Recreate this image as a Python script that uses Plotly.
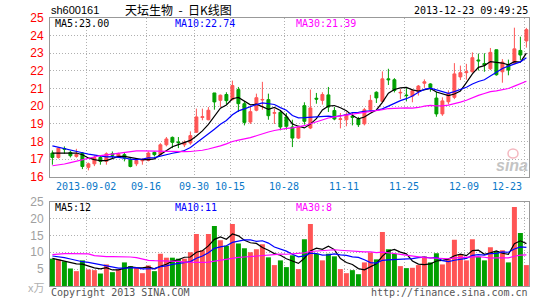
import plotly.graph_objects as go
import pandas as pd

# ---------------- data ----------------
opens = [17.34, 17.09, 17.60, 17.38, 17.15, 17.34, 16.53, 16.73, 17.09, 16.87,
         17.30, 17.15, 17.25, 16.96, 16.73, 16.90, 16.92, 17.38, 17.25, 17.81,
         18.23, 17.97, 17.81, 17.91, 18.52, 19.36, 19.23, 20.75, 20.33, 20.66,
         20.37, 20.94, 20.14, 19.10, 19.77, 20.35, 20.37, 19.60, 19.65, 19.39,
         18.82, 18.19, 20.03, 18.76, 20.45, 20.33, 20.64, 19.75, 19.25, 19.23,
         19.42, 19.27, 19.00, 19.80, 20.79, 20.27, 21.55, 21.50, 20.75, 20.63,
         20.57, 20.82, 21.30, 21.26, 20.46, 19.56, 20.25, 20.50, 21.66, 21.90,
         21.95, 22.62, 22.42, 22.12, 23.20, 21.95, 22.35, 22.44, 23.16, 23.70]
closes = [17.09, 17.62, 17.56, 17.19, 17.26, 16.58, 16.73, 17.09, 16.87, 17.30,
          17.21, 17.30, 17.06, 16.58, 16.92, 16.96, 17.34, 17.25, 17.81, 18.14,
          17.95, 17.93, 17.95, 18.33, 19.39, 19.40, 19.77, 20.24, 20.62, 20.31,
          21.17, 20.14, 19.08, 19.69, 20.48, 20.38, 19.46, 19.63, 18.82, 18.86,
          18.19, 18.82, 19.14, 19.90, 20.40, 20.66, 19.95, 19.27, 19.28, 19.52,
          19.37, 18.95, 19.80, 20.33, 20.47, 21.55, 21.50, 20.89, 20.78, 20.60,
          20.87, 21.14, 21.38, 21.05, 19.56, 20.30, 20.72, 21.83, 21.90, 21.95,
          22.75, 22.57, 22.33, 23.05, 21.78, 22.50, 22.05, 23.25, 22.90, 24.34]
highs = [17.49, 17.68, 17.72, 17.47, 17.58, 17.40, 16.80, 17.20, 17.19, 17.38,
         17.43, 17.36, 17.38, 17.05, 17.00, 17.05, 17.43, 17.43, 17.90, 18.25,
         18.28, 18.25, 18.06, 18.57, 19.86, 19.86, 19.95, 20.75, 20.66, 20.79,
         21.45, 21.09, 20.28, 19.95, 20.71, 21.38, 20.71, 19.86, 19.73, 19.61,
         19.23, 18.86, 20.22, 20.94, 20.75, 20.79, 21.09, 19.95, 19.61, 19.65,
         19.65, 19.39, 19.90, 20.64, 20.84, 21.97, 22.12, 21.59, 20.97, 21.02,
         20.97, 21.20, 21.52, 21.30, 20.82, 20.50, 20.90, 22.44, 22.30, 22.40,
         23.05, 22.98, 23.00, 23.30, 23.20, 22.67, 22.64, 24.45, 23.94, 24.44]
lows = [16.68, 17.03, 17.30, 17.09, 17.08, 16.43, 16.36, 16.60, 16.68, 16.68,
        17.05, 17.10, 16.87, 16.53, 16.60, 16.68, 16.87, 17.15, 17.20, 17.72,
        17.62, 17.62, 17.68, 17.81, 18.48, 19.20, 19.20, 19.80, 19.95, 20.09,
        20.33, 19.67, 18.91, 18.99, 19.71, 19.80, 19.23, 18.99, 18.63, 18.67,
        17.68, 18.14, 18.95, 18.70, 20.14, 20.09, 19.67, 19.20, 18.74, 18.86,
        18.91, 18.82, 18.91, 19.71, 20.18, 20.17, 21.20, 20.78, 20.40, 20.27,
        20.22, 20.60, 21.04, 20.82, 19.40, 19.45, 20.10, 20.40, 21.48, 21.50,
        21.90, 22.02, 21.95, 22.05, 21.73, 21.33, 21.75, 22.38, 22.62, 23.32]
volumes = [8.1, 7.9, 7.3, 5.2, 4.4, 7.6, 4.9, 4.7, 3.7, 6.4,
           4.1, 4.9, 7.0, 5.9, 5.4, 3.8, 6.1, 4.4, 9.6, 8.4,
           8.4, 8.1, 8.1, 10.0, 15.4, 10.6, 15.4, 17.8, 13.6, 11.9,
           18.4, 12.6, 11.2, 10.0, 10.9, 12.4, 8.5, 6.2, 7.6, 5.6,
           9.1, 5.0, 13.9, 18.4, 9.6, 7.6, 9.6, 8.8, 5.0, 3.8,
           4.7, 3.5, 7.0, 9.9, 7.9, 16.0, 10.9, 9.6, 5.9, 5.3,
           5.4, 6.2, 8.8, 7.0, 9.7, 6.4, 8.0, 13.7, 9.3, 7.6,
           13.9, 8.6, 7.6, 11.5, 10.3, 10.6, 7.0, 23.4, 15.7, 6.2]

# moving-average values at the start of the window (read off the lines,
# they depend on days before the visible range)
ma5_head = [17.34, 17.35, 17.36, 17.35]
ma10_head = [17.75, 17.68, 17.60, 17.50, 17.43, 17.36, 17.28, 17.22, 17.17]
ma30_head = [16.62, 16.66, 16.72, 16.80, 16.88, 16.97, 17.06, 17.14, 17.20, 17.24,
             17.28, 17.34, 17.40, 17.44, 17.46, 17.46, 17.45, 17.43, 17.42, 17.41,
             17.41, 17.41, 17.42, 17.43, 17.46, 17.50, 17.57, 17.65, 17.75]
vma5_head = [8.2, 7.8, 7.4, 7.0]
vma10_head = [8.9, 8.7, 8.4, 8.0, 7.5, 7.2, 7.0, 6.7, 6.4]
vma30_head = [9.3, 9.5, 9.6, 9.6, 9.6, 9.6, 9.5, 9.0, 8.8, 8.7,
              8.7, 8.7, 8.7, 8.6, 8.4, 7.9, 7.6, 7.5, 7.5, 7.5,
              7.5, 7.3, 7.1, 7.0, 7.0, 7.0, 7.1, 7.4, 7.7]

date_pos = [6, 16, 24, 30, 39, 49, 59, 69, 79]
date_labels = ["2013-09-02", "09-16", "09-30", "10-15", "10-28",
               "11-11", "11-25", "12-09", "12-23"]
price_ticks = [16, 17, 18, 19, 20, 21, 22, 23, 24, 25]
vol_ticks = [5, 10, 15, 20, 25]

title_code = "sh600161"
title_name = "天坛生物\u00a0\u00a0-\u00a0\u00a0日K线图"
timestamp = "2013-12-23 09:49:25"
price_ma_text = ["MA5:23.00", "MA10:22.74", "MA30:21.39"]
vol_ma_text = ["MA5:12", "MA10:11", "MA30:8"]

# ---------------- helpers ----------------
def ma(values, n, head):
    s = pd.Series(values).rolling(n).mean().tolist()
    return list(head) + s[n - 1:]

x = list(range(len(closes)))
ma5 = ma(closes, 5, ma5_head)
ma10 = ma(closes, 10, ma10_head)
ma30 = ma(closes, 30, ma30_head)
vma5 = ma(volumes, 5, vma5_head)
vma10 = ma(volumes, 10, vma10_head)
vma30 = ma(volumes, 30, vma30_head)

RED = "#FF5555"
GREEN = "#00A000"
W, H = 545, 300
L, R, T, B = 50, 16, 18, 14
PW, PH = W - L - R, H - T - B

def px(v):
    return (v - L) / PW

def py(v):
    return (H - B - v) / PH

MONO = "DejaVu Sans Mono"
SANS = "Liberation Sans"

fig = go.Figure()

fig.add_trace(go.Candlestick(
    x=x, open=opens, high=highs, low=lows, close=closes,
    increasing=dict(line=dict(color=RED, width=1), fillcolor=RED),
    decreasing=dict(line=dict(color=GREEN, width=1), fillcolor=GREEN),
    whiskerwidth=0, xaxis="x", yaxis="y", hoverinfo="skip"))

for series, color in [(ma5, "#000000"), (ma10, "#0000FF"), (ma30, "#FF00FF")]:
    fig.add_trace(go.Scatter(x=x, y=series, mode="lines",
                             line=dict(color=color, width=1.2),
                             xaxis="x", yaxis="y", hoverinfo="skip"))

bar_colors = [RED if c >= o else GREEN for o, c in zip(opens, closes)]
fig.add_trace(go.Bar(x=x, y=volumes, width=0.83, marker=dict(color=bar_colors, line=dict(width=0)),
                     xaxis="x2", yaxis="y2", hoverinfo="skip"))
for series, color in [(vma5, "#000000"), (vma10, "#0000FF"), (vma30, "#FF00FF")]:
    fig.add_trace(go.Scatter(x=x, y=series, mode="lines",
                             line=dict(color=color, width=1.2),
                             xaxis="x2", yaxis="y2", hoverinfo="skip"))

grid_vals = [d - 0.4 for d in date_pos]
GRID = "#B0B0B0"
BORDER = "#999999"
xcommon = dict(range=[-0.4, -0.4 + PW / 6.0], tickvals=grid_vals, showticklabels=False,
               showgrid=True, gridcolor=GRID, griddash="1px,2px", gridwidth=1,
               showline=True, mirror=True, linecolor=BORDER, linewidth=1,
               zeroline=False, ticks="", fixedrange=True)

main_bottom = py(176.7)
vol_top = py(201.7)

fig.update_layout(
    width=W, height=H,
    margin=dict(l=L, r=R, t=T, b=B, autoexpand=False),
    paper_bgcolor="white", plot_bgcolor="white",
    showlegend=False, hovermode=False, boxgap=0.3,
    xaxis=dict(domain=[0, 1], anchor="y", rangeslider=dict(visible=False), **xcommon),
    xaxis2=dict(domain=[0, 1], anchor="y2", matches="x", **xcommon),
    yaxis=dict(domain=[main_bottom, 1], range=[16, 25], tickvals=price_ticks,
               showgrid=True, gridcolor=GRID, griddash="1px,2px", gridwidth=1,
               showline=True, mirror=True, linecolor=BORDER, linewidth=1,
               zeroline=False, ticks="", ticklabelstandoff=3,
               tickfont=dict(family=SANS, size=12, color="#FF0000"), fixedrange=True),
    yaxis2=dict(domain=[0, vol_top], range=[0, 25], tickvals=vol_ticks,
                showgrid=True, gridcolor=GRID, griddash="1px,2px", gridwidth=1,
                showline=True, mirror=True, linecolor=BORDER, linewidth=1,
                zeroline=False, ticks="", ticklabelstandoff=3,
                tickfont=dict(family=SANS, size=12, color="#A0A0A0"), fixedrange=True),
)

ann = []

def text(t, xp, yp, color="#000000", size=10, family=MONO, xanchor="left", **kw):
    ann.append(dict(text=t, x=px(xp), y=py(yp), xref="paper", yref="paper",
                    xanchor=xanchor, yanchor="middle", showarrow=False,
                    font=dict(family=family, size=size, color=color), **kw))

text(title_code, 49, 10.5, size=11, family=SANS)
text(title_name, 178, 9.5, size=12, family="Noto Sans CJK SC", xanchor="center")
text(timestamp, 530, 10.5, xanchor="right")

for t, xp, c in zip(price_ma_text, [53, 173, 294], ["#000000", "#0000FF", "#FF00FF"]):
    text(t, xp, 24, color=c)
for t, xp, c in zip(vol_ma_text, [53, 173, 294], ["#000000", "#0000FF", "#FF00FF"]):
    text(t, xp, 207, color=c)

for d, lab in zip(date_pos, date_labels):
    gx = L + 6 * d
    if d == date_pos[-1]:
        text(lab, gx, 186, color="#0A78C8", xanchor="right")
    else:
        text(lab, gx, 186, color="#0A78C8", xanchor="center")

text("x万", 46, 287, color="#B0B0B0", size=11, family="Noto Sans CJK SC", xanchor="right")
text("Copyright 2013 SINA.COM", 49, 292, color="#555555")
text("http://finance.sina.com.cn", 530, 292, color="#555555", xanchor="right")
text("<b><i>sina</i></b>", 512, 165, color="#C4C4C4", size=16, family=SANS, xanchor="center")

fig.update_layout(annotations=ann)
fig.add_shape(type="circle", xref="paper", yref="paper",
              x0=px(508), x1=px(518), y0=py(158), y1=py(149),
              line=dict(color="#F4B8C0", width=1.5))

fig.write_html("out.html")
